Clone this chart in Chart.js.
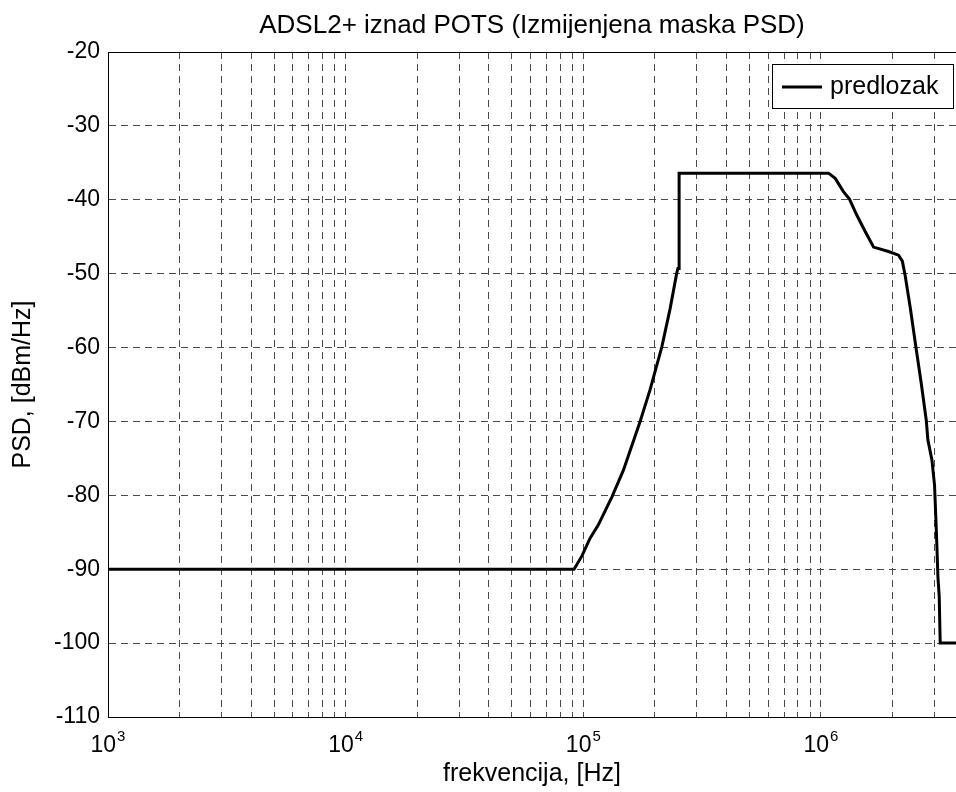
<!DOCTYPE html>
<html><head><meta charset="utf-8">
<script src="https://cdn.jsdelivr.net/npm/chart.js@4.4.1/dist/chart.umd.min.js"></script>
<style>html,body{margin:0;padding:0;background:#fff;overflow:hidden}#wrap{width:956px;height:792px;position:relative}</style>
</head><body><div id="wrap"><canvas id="c" width="956" height="792"></canvas></div>
<script>
// ---- data ----
const seriesLabel = 'predlozak';
const freqHz = [1000, 91400, 98700, 106800, 115700, 132000, 147500, 173400, 191000, 214000, 232000, 247000, 250000, 253000,
  253000, 1076000, 1148000, 1243000, 1318000, 1416000, 1535000, 1664000, 1924000, 2120000, 2200000, 2260000, 2373000, 2508000,
  2641000, 2773000, 2818000, 2930000, 3005000, 3046000, 3075000, 3105000, 3145000, 3175000, 3700000];
const psdDbm = [-90, -90, -88.2, -85.8, -84.0, -80.2, -76.6, -70.0, -65.7, -59.9, -54.7, -50.0, -49.3, -49.3,
  -36.4, -36.4, -37.1, -38.9, -39.9, -42.1, -44.3, -46.4, -47.0, -47.5, -48.3, -50.2, -54.5, -59.9,
  -64.8, -69.8, -72.5, -75.2, -78.6, -83.3, -86.9, -91.0, -93.7, -100, -100];
const xGridValues = [1e3,2e3,3e3,4e3,5e3,6e3,7e3,8e3,9e3,1e4,2e4,3e4,4e4,5e4,6e4,7e4,8e4,9e4,1e5,2e5,3e5,4e5,5e5,6e5,7e5,8e5,9e5,1e6,2e6,3e6];
const xLabelValues = [1e3, 1e4, 1e5, 1e6];
const xLabelExponents = ['3', '4', '5', '6'];
const yTickValues = [-110, -100, -90, -80, -70, -60, -50, -40, -30, -20];
const titleText = 'ADSL2+ iznad POTS (Izmijenjena maska PSD)';
const xTitle = 'frekvencija, [Hz]';
const yTitle = 'PSD, [dBm/Hz]';

const FONT = "'Liberation Sans', Arial, Helvetica, sans-serif";

const framePlugin = {
  id: 'frame',
  afterDraw(chart) {
    const {ctx, chartArea: a, scales} = chart;
    ctx.save();
    // top border
    ctx.strokeStyle = '#000'; ctx.lineWidth = 1;
    ctx.beginPath(); ctx.moveTo(a.left, a.top + 0.5); ctx.lineTo(a.right, a.top + 0.5); ctx.stroke();
    // x tick labels 10^n
    ctx.fillStyle = '#000';
    ctx.textBaseline = 'alphabetic';
    xLabelValues.forEach((v, i) => {
      const px = scales.x.getPixelForValue(v);
      ctx.font = '23px ' + FONT;
      const wb = ctx.measureText('10').width;
      ctx.font = '15px ' + FONT;
      const we = ctx.measureText(xLabelExponents[i]).width;
      const x0 = px - (wb + 1 + we) / 2;
      ctx.font = '23px ' + FONT;
      ctx.textAlign = 'left';
      ctx.fillText('10', x0, 752);
      ctx.font = '15px ' + FONT;
      ctx.fillText(xLabelExponents[i], x0 + wb + 1, 741);
    });
    // legend
    const lx = 772, ly = 64, lw = 953 - 772, lh = 44;
    ctx.fillStyle = '#fff';
    ctx.fillRect(lx, ly, lw, lh);
    ctx.strokeStyle = '#000'; ctx.lineWidth = 1;
    ctx.strokeRect(lx + 0.5, ly + 0.5, lw, lh);
    ctx.lineWidth = 3;
    ctx.beginPath(); ctx.moveTo(782, 87); ctx.lineTo(822, 87); ctx.stroke();
    ctx.fillStyle = '#000';
    ctx.font = '25px ' + FONT;
    ctx.textAlign = 'left'; ctx.textBaseline = 'middle';
    ctx.fillText(chart.data.datasets[0].label, 830, 87);
    ctx.restore();
  }
};

new Chart(document.getElementById('c'), {
  type: 'line',
  data: {
    datasets: [{
      label: seriesLabel,
      data: freqHz.map((f, i) => ({x: f, y: psdDbm[i]})),
      borderColor: '#000', borderWidth: 3, pointRadius: 0, fill: false, tension: 0,
      borderJoinStyle: 'miter'
    }]
  },
  options: {
    responsive: false, animation: false, devicePixelRatio: 1,
    layout: {padding: 0},
    plugins: {
      legend: {display: false},
      tooltip: {enabled: false},
      title: {display: true, text: titleText, color: '#000', fullSize: false,
        font: {family: FONT, size: 26, weight: 'normal', lineHeight: 1.2},
        padding: {top: 10, bottom: 10.8}}
    },
    scales: {
      x: {
        type: 'logarithmic', min: 1000, max: 3700000,
        afterBuildTicks: s => { s.ticks = xGridValues.map(v => ({value: v})); },
        afterFit: s => { s.height = 75; },
        ticks: {display: false},
        grid: {color: '#4a4a4a', lineWidth: 1, drawTicks: false},
        border: {display: true, color: '#000', width: 1, dash: [7, 5]},
        title: {display: true, text: xTitle, color: '#000', font: {family: FONT, size: 25}, padding: {top: 0, bottom: 3}}
      },
      y: {
        min: -110, max: -20,
        afterBuildTicks: s => { s.ticks = yTickValues.map(v => ({value: v})); },
        afterFit: s => { s.width = 108; },
        ticks: {color: '#000', font: {family: FONT, size: 23}, padding: 8},
        grid: {color: '#4a4a4a', lineWidth: 1, drawTicks: false},
        border: {display: true, color: '#000', width: 1, dash: [7, 5]},
        title: {display: true, text: yTitle, color: '#000', font: {family: FONT, size: 25}, padding: {top: 8, bottom: 0}}
      }
    }
  },
  plugins: [framePlugin]
});
</script></body></html>
